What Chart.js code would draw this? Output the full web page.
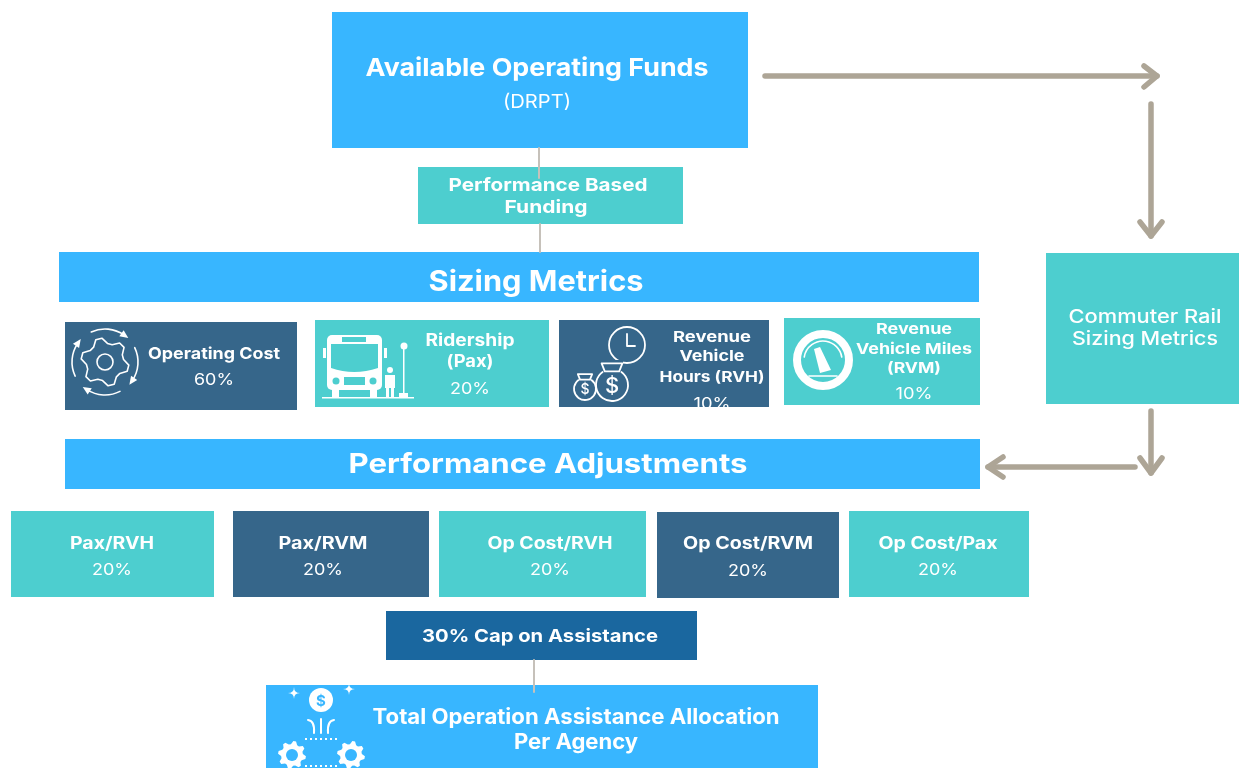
<!DOCTYPE html>
<html>
<head>
<meta charset="utf-8">
<script src="https://cdn.jsdelivr.net/npm/chart.js@4"></script>
<style>
html, body { margin: 0; background: #fff; overflow: hidden; }
canvas { display: block; }
</style>
</head>
<body>
<canvas id="flow" width="1239" height="768"></canvas>
<script>
// values
const metricNames = [['Operating Cost'], ['Ridership', '(Pax)'], ['Revenue', 'Vehicle', 'Hours (RVH)'], ['Revenue', 'Vehicle Miles', '(RVM)']];
const metricShares = [60, 20, 10, 10];
const adjustmentNames = ['Pax/RVH', 'Pax/RVM', 'Op Cost/RVH', 'Op Cost/RVM', 'Op Cost/Pax'];
const adjustmentShares = [20, 20, 20, 20, 20];
const capShare = 30;

const BLUE = '#38B6FF', TEAL = '#4DCECF', DARK = '#36668A', CAP = '#1A679F';
const ARROW = '#ADA596', LINK = '#C6C1BA';
const FONT = 'Inter, "Noto Sans", sans-serif';

// boxes: x0, y0, x1, y1, colour
const boxes = [
    [332, 12, 748, 148, BLUE],
    [418, 167, 683, 224, TEAL],
    [59, 252, 979, 302, BLUE],
    [65, 322, 297, 410, DARK],
    [315, 320, 549, 407, TEAL],
    [559, 320, 769, 407, DARK],
    [784, 318, 980, 405, TEAL],
    [1046, 253, 1239, 404, TEAL],
    [65, 439, 980, 489, BLUE],
    [11, 511, 214, 597, TEAL],
    [233, 511, 429, 597, DARK],
    [439, 511, 646, 597, TEAL],
    [657, 512, 839, 598, DARK],
    [849, 511, 1029, 597, TEAL],
    [386, 611, 697, 660, CAP],
    [266, 685, 818, 768, BLUE]
];

// polylines drawn as line datasets
const links = [
    [[539, 148], [539, 178]],
    [[540, 224], [540, 252]],
    [[534, 660], [534, 692]]
];
const arrows = [
    [[765, 76], [1157, 76]], [[1144, 66], [1157, 76], [1144, 87]],
    [[1151, 104], [1151, 236]], [[1140, 222], [1151, 236], [1162, 222]],
    [[1151, 411], [1151, 473]], [[1140, 458], [1151, 473], [1162, 458]],
    [[1135, 467], [988, 467]], [[1003, 457], [988, 467], [1003, 477]]
];

function polyDataset(points, color, width) {
    return {
        type: 'scatter',
        data: points.map(p => ({ x: p[0], y: p[1] })),
        showLine: true,
        borderColor: color,
        borderWidth: width,
        borderCapStyle: 'round',
        borderJoinStyle: 'round',
        pointRadius: 0,
        fill: false,
        clip: false
    };
}

// text: string, centre x, middle y, size, weight, width on the picture, optional clip bottom
const texts = [
    ['Available Operating Funds', 537, 69, 24.5, 700, 343],
    ['(DRPT)', 537, 102, 19, 400, 68],
    ['Performance Based', 548, 186, 18, 700, 199],
    ['Funding', 546, 208, 18, 700, 83],
    ['Sizing Metrics', 536, 282, 28.5, 700, 215],
    ['Commuter Rail', 1145, 317, 18.5, 500, 153],
    ['Sizing Metrics', 1145, 339, 18.5, 500, 146],
    ['Performance Adjustments', 548, 465, 27, 700, 399],
    [`${capShare}% Cap on Assistance`, 540, 637, 18, 700, 236],
    ['Total Operation Assistance Allocation', 576, 718, 21, 700, 407],
    ['Per Agency', 576, 743, 21, 700, 124]
];
const metricSpots = [
    { x: 214, ys: [354], widths: [132], size: 16, py: 380, pw: 40 },
    { x: 470, ys: [341, 362], widths: [89, 47], size: 17, py: 389, pw: 40 },
    { x: 712, ys: [337, 356, 377], widths: [78, 65, 105], size: 15, py: 404, pw: 37, clip: 407 },
    { x: 914, ys: [329, 349, 368], widths: [76, 116, 54], size: 15, py: 394, pw: 37 }
];
metricNames.forEach((lines, i) => {
    const s = metricSpots[i];
    lines.forEach((l, j) => texts.push([l, s.x, s.ys[j], s.size, 700, s.widths[j]]));
    texts.push([`${metricShares[i]}%`, s.x, s.py, 16, 400, s.pw, s.clip]);
});
const adjustmentX = [112, 323, 550, 748, 938];
const adjustmentWidths = [84, 89, 125, 130, 119];
adjustmentNames.forEach((name, i) => {
    texts.push([name, adjustmentX[i], 544, 17, 700, adjustmentWidths[i]]);
    texts.push([`${adjustmentShares[i]}%`, adjustmentX[i], i === 3 ? 571 : 570, 16, 400, 40]);
});

function gear(ctx, cx, cy, r, teeth) {
    ctx.beginPath();
    const n = teeth * 4;
    for (let i = 0; i < n; i++) {
        const a = (i + 0.5) / n * Math.PI * 2;
        const rr = (i % 4 < 2) ? r : r * 0.78;
        ctx.lineTo(cx + Math.cos(a) * rr, cy + Math.sin(a) * rr);
    }
    ctx.closePath();
}

function arcArrow(ctx, cx, cy, r, from, to) {
    ctx.beginPath();
    ctx.arc(cx, cy, r, from, to);
    ctx.stroke();
    const x = cx + Math.cos(to) * r, y = cy + Math.sin(to) * r;
    const t = to + Math.PI / 2;
    ctx.beginPath();
    ctx.moveTo(x + Math.cos(t) * 5, y + Math.sin(t) * 5);
    ctx.lineTo(x + Math.cos(t + 2.3) * 5, y + Math.sin(t + 2.3) * 5);
    ctx.lineTo(x + Math.cos(t - 2.3) * 5, y + Math.sin(t - 2.3) * 5);
    ctx.closePath();
    ctx.fill();
}

function moneyBag(ctx, cx, cy, r, size) {
    ctx.beginPath();
    ctx.arc(cx, cy, r, -Math.PI * 0.3, Math.PI * 1.3);
    ctx.stroke();
    ctx.beginPath();
    ctx.moveTo(cx - r * 0.45, cy - r * 0.85);
    ctx.lineTo(cx - r * 0.65, cy - r * 1.35);
    ctx.lineTo(cx + r * 0.65, cy - r * 1.35);
    ctx.lineTo(cx + r * 0.45, cy - r * 0.85);
    ctx.closePath();
    ctx.stroke();
    ctx.font = `500 ${size}px ${FONT}`;
    ctx.fillText('$', cx, cy + 1);
}

function sparkle(ctx, x, y, r) {
    ctx.beginPath();
    ctx.moveTo(x - r, y);
    ctx.quadraticCurveTo(x, y, x, y - r);
    ctx.quadraticCurveTo(x, y, x + r, y);
    ctx.quadraticCurveTo(x, y, x, y + r);
    ctx.quadraticCurveTo(x, y, x - r, y);
    ctx.closePath();
    ctx.fill();
}

function drawIcons(ctx) {
    ctx.save();
    ctx.strokeStyle = '#fff';
    ctx.fillStyle = '#fff';
    ctx.lineWidth = 1.6;
    ctx.lineCap = 'round';
    ctx.lineJoin = 'round';
    ctx.textAlign = 'center';
    ctx.textBaseline = 'middle';

    // cog with arrows
    gear(ctx, 105, 362, 24, 6);
    ctx.stroke();
    ctx.beginPath();
    ctx.arc(105, 362, 8, 0, Math.PI * 2);
    ctx.stroke();
    [-2.0, -0.45, 1.1, 2.7].forEach(a => arcArrow(ctx, 105, 362, 33, a, a + 1.05));

    // bus and stop
    ctx.lineWidth = 2;
    ctx.beginPath();
    ctx.roundRect(327, 335, 55, 55, 5);
    ctx.fill();
    ctx.fillStyle = TEAL;
    ctx.beginPath();
    ctx.moveTo(331, 344);
    ctx.lineTo(378, 344);
    ctx.lineTo(378, 368);
    ctx.quadraticCurveTo(354, 376, 331, 368);
    ctx.closePath();
    ctx.fill();
    ctx.fillRect(342, 337, 24, 5);
    ctx.beginPath();
    ctx.arc(336, 381, 3.5, 0, Math.PI * 2);
    ctx.fill();
    ctx.beginPath();
    ctx.arc(373, 381, 3.5, 0, Math.PI * 2);
    ctx.fill();
    ctx.fillRect(344, 377, 21, 8);
    ctx.fillStyle = '#fff';
    ctx.fillRect(332, 390, 7, 7);
    ctx.fillRect(370, 390, 7, 7);
    ctx.fillRect(323, 348, 3, 10);
    ctx.fillRect(384, 348, 3, 10);
    ctx.fillRect(322, 397, 92, 1.5);
    ctx.fillRect(403, 348, 1.5, 48);
    ctx.beginPath();
    ctx.arc(404, 346, 3.5, 0, Math.PI * 2);
    ctx.fill();
    ctx.beginPath();
    ctx.arc(390, 370, 3, 0, Math.PI * 2);
    ctx.fill();
    ctx.fillRect(385, 375, 10, 13);
    ctx.fillRect(386, 386, 3, 11);
    ctx.fillRect(391, 386, 3, 11);
    ctx.fillRect(399, 393, 9, 4);

    // clock and money bags
    ctx.lineWidth = 1.8;
    ctx.beginPath();
    ctx.arc(627, 345, 18, 0, Math.PI * 2);
    ctx.moveTo(627, 334);
    ctx.lineTo(627, 346);
    ctx.lineTo(635, 346);
    ctx.stroke();
    ctx.fillStyle = DARK;
    ctx.beginPath();
    ctx.arc(612, 386, 18, 0, Math.PI * 2);
    ctx.rect(601, 360, 22, 12);
    ctx.fill();
    ctx.fillStyle = '#fff';
    moneyBag(ctx, 612, 385, 16, 22);
    moneyBag(ctx, 585, 389, 11, 14);

    // gauge
    ctx.lineWidth = 8;
    ctx.beginPath();
    ctx.arc(823, 360, 26, 0, Math.PI * 2);
    ctx.stroke();
    ctx.lineWidth = 1.6;
    ctx.beginPath();
    ctx.arc(823, 360, 19, Math.PI * 1.05, Math.PI * 1.95);
    ctx.moveTo(809, 376);
    ctx.lineTo(837, 376);
    ctx.stroke();
    ctx.beginPath();
    ctx.moveTo(814, 349);
    ctx.lineTo(820, 347);
    ctx.lineTo(831, 370);
    ctx.lineTo(820, 373);
    ctx.closePath();
    ctx.fill();

    // money and gears on the total box
    ctx.beginPath();
    ctx.arc(321, 700, 12, 0, Math.PI * 2);
    ctx.fill();
    ctx.fillStyle = BLUE;
    ctx.font = `700 15px ${FONT}`;
    ctx.fillText('$', 321, 701);
    ctx.fillStyle = '#fff';
    sparkle(ctx, 294, 693, 6);
    sparkle(ctx, 349, 689, 6);
    ctx.lineWidth = 2;
    ctx.beginPath();
    ctx.moveTo(321, 719); ctx.lineTo(321, 733);
    ctx.moveTo(308, 720); ctx.quadraticCurveTo(315, 721, 314, 733);
    ctx.moveTo(334, 720); ctx.quadraticCurveTo(327, 721, 328, 733);
    ctx.stroke();
    ctx.lineCap = 'butt';
    ctx.setLineDash([2, 3]);
    ctx.beginPath();
    ctx.moveTo(305, 739); ctx.lineTo(338, 739);
    ctx.moveTo(305, 766); ctx.lineTo(338, 766);
    ctx.stroke();
    ctx.setLineDash([]);
    [[292, 755], [351, 755]].forEach(p => {
        gear(ctx, p[0], p[1], 14, 8);
        ctx.fill();
        ctx.fillStyle = BLUE;
        ctx.beginPath();
        ctx.arc(p[0], p[1], 6, 0, Math.PI * 2);
        ctx.fill();
        ctx.fillStyle = '#fff';
    });
    ctx.restore();
}

const flowPlugin = {
    id: 'flow',
    beforeDatasetsDraw(chart) {
        const { ctx, scales: { x, y } } = chart;
        boxes.forEach(b => {
            const left = x.getPixelForValue(b[0]), top = y.getPixelForValue(b[1]);
            ctx.fillStyle = b[4];
            ctx.fillRect(left, top, x.getPixelForValue(b[2]) - left, y.getPixelForValue(b[3]) - top);
        });
    },
    afterDatasetsDraw(chart) {
        const { ctx, scales: { x, y } } = chart;
        drawIcons(ctx);
        ctx.fillStyle = '#fff';
        ctx.textAlign = 'center';
        ctx.textBaseline = 'middle';
        texts.forEach(t => {
            ctx.save();
            if (t[6]) {
                ctx.beginPath();
                ctx.rect(0, 0, chart.width, y.getPixelForValue(t[6]));
                ctx.clip();
            }
            ctx.font = `${t[4]} ${t[3]}px ${FONT}`;
            // the original face is wider than anything installed, so stretch to its width
            ctx.translate(x.getPixelForValue(t[1]), y.getPixelForValue(t[2]));
            ctx.scale(t[5] / ctx.measureText(t[0]).width, 1);
            ctx.fillText(t[0], 0, 0);
            ctx.restore();
        });
    }
};

new Chart(document.getElementById('flow'), {
    type: 'scatter',
    data: {
        datasets: [
            ...links.map(p => polyDataset(p, LINK, 2)),
            ...arrows.map(p => polyDataset(p, ARROW, 5.5))
        ]
    },
    options: {
        responsive: false,
        animation: false,
        layout: { padding: 0 },
        plugins: { legend: { display: false }, tooltip: { enabled: false } },
        scales: {
            x: { type: 'linear', min: 0, max: 1239, display: false },
            y: { type: 'linear', min: 0, max: 768, reverse: true, display: false }
        }
    },
    plugins: [flowPlugin]
});
</script>
</body>
</html>
